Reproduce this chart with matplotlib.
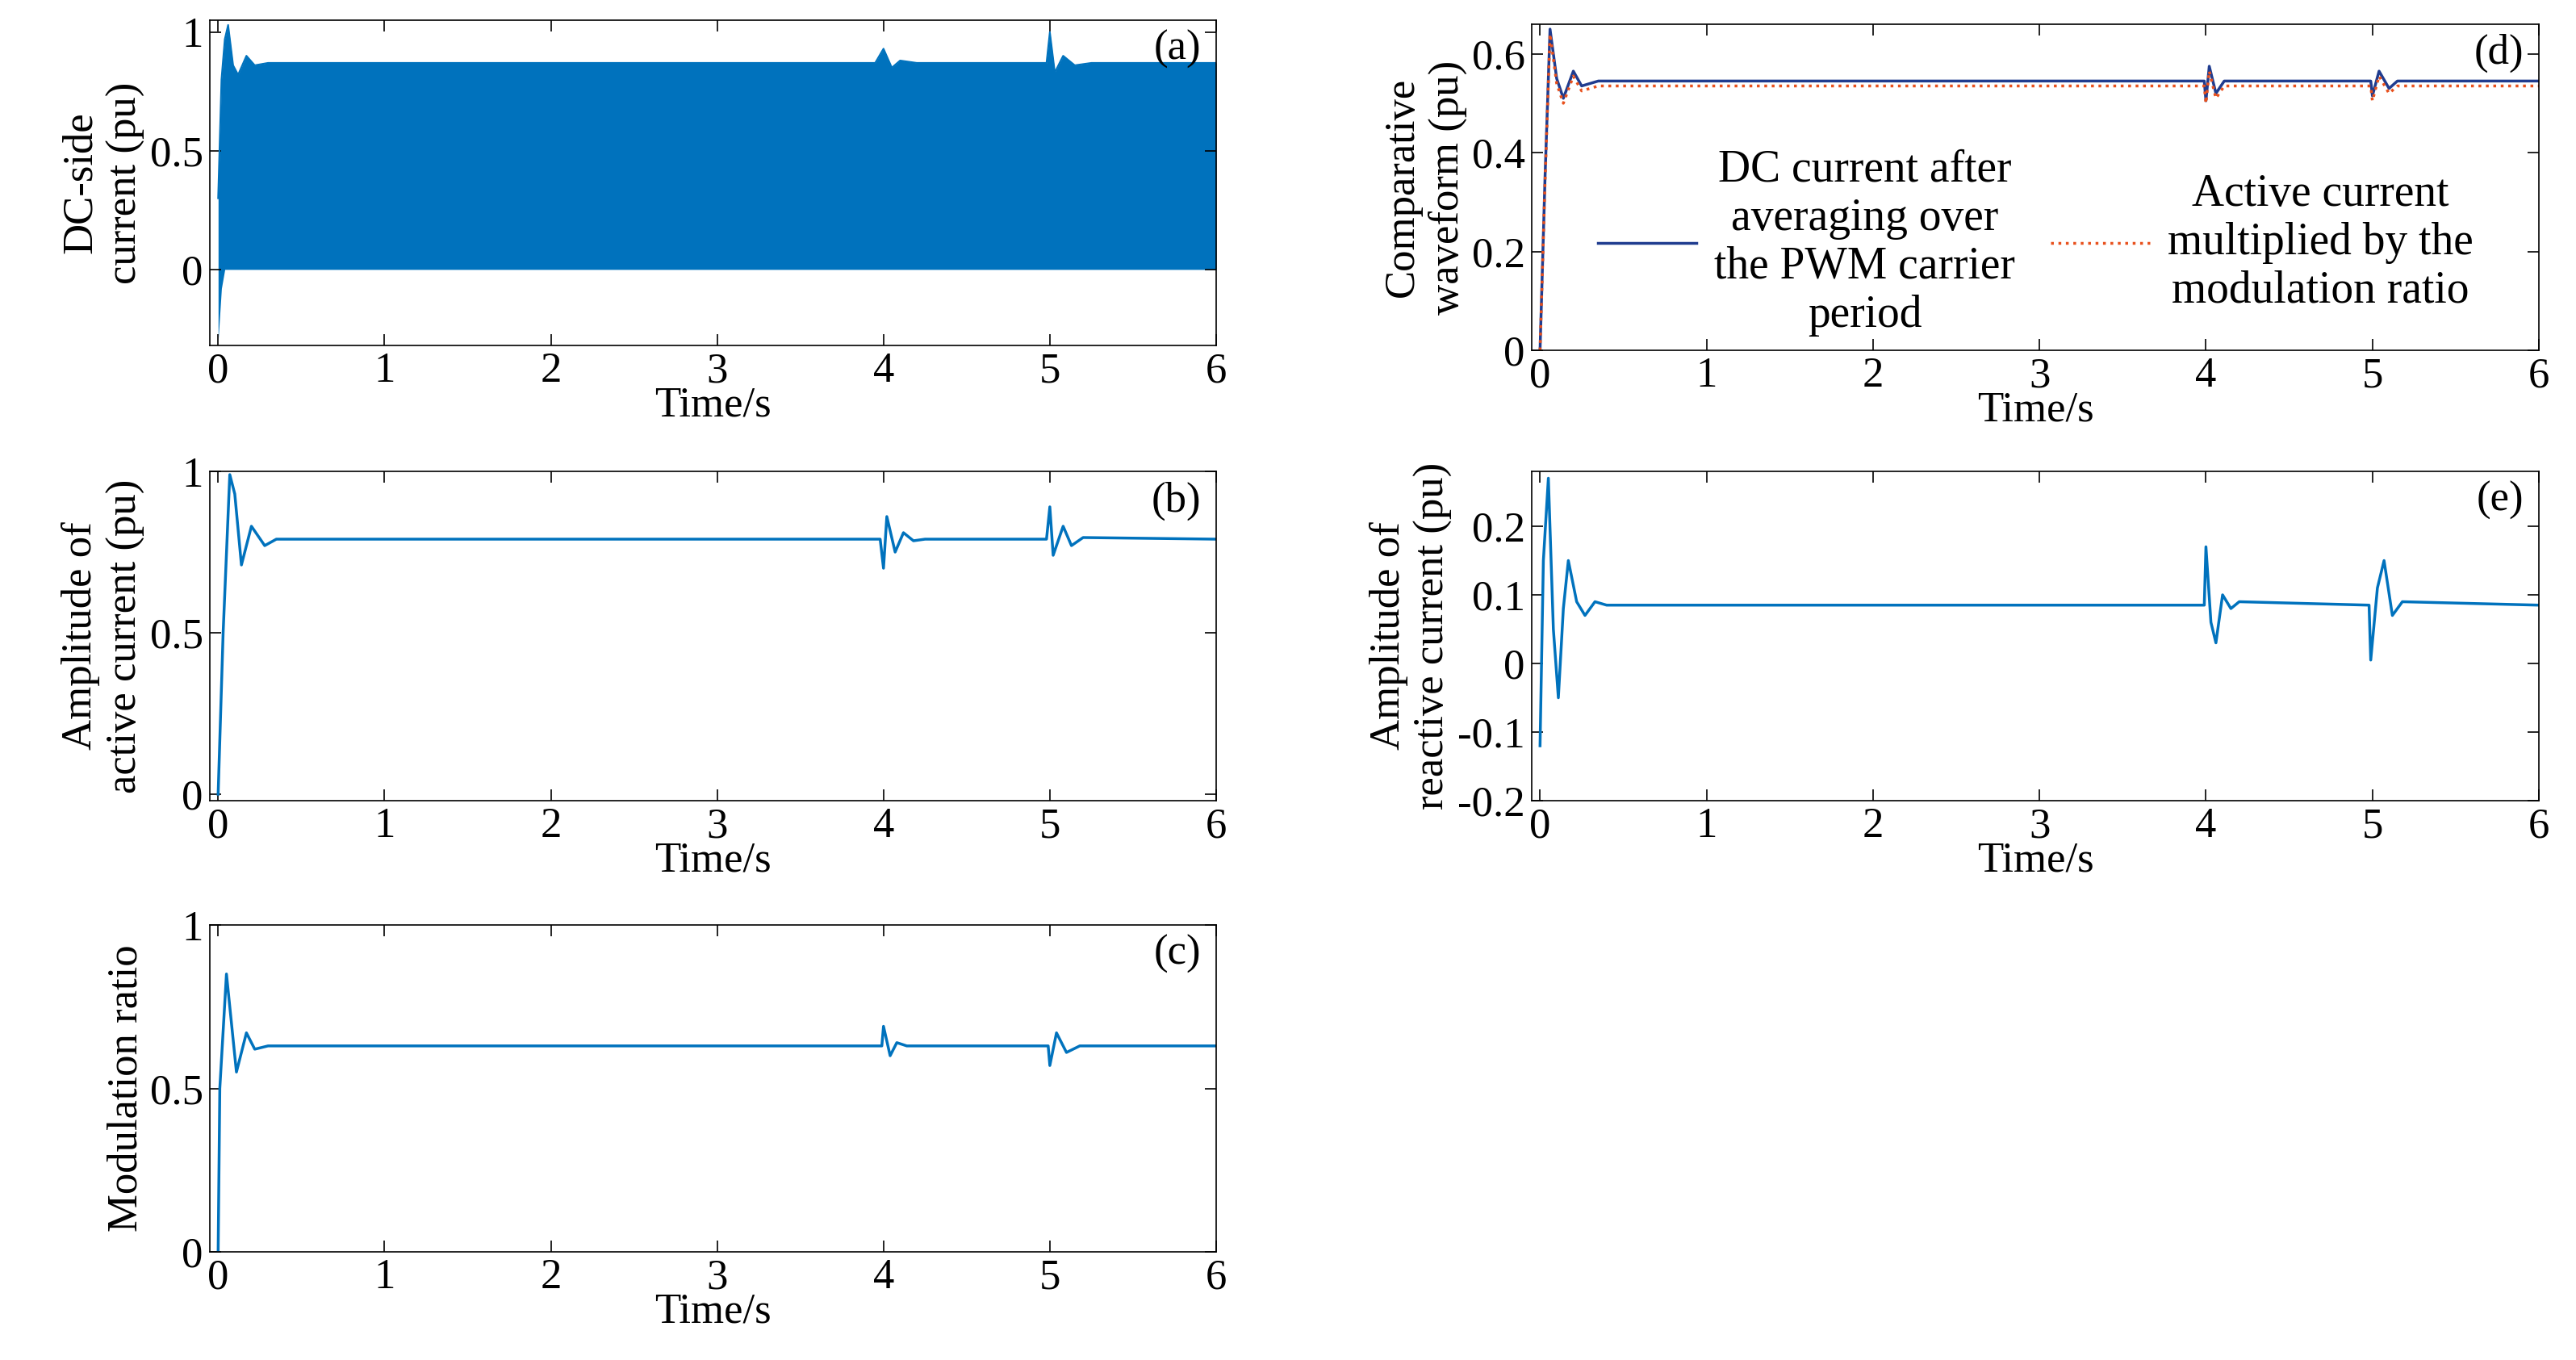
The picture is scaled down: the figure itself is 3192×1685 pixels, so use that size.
import matplotlib
matplotlib.use('Agg')
import matplotlib.pyplot as plt
import numpy as np

plt.rcParams['font.family'] = 'Liberation Serif'
plt.rcParams['font.size'] = 38

line_blue = '#0072BD'

# (a) DC-side current: envelope of the switching waveform
a_t = [0, 0.02, 0.04, 0.06, 0.09, 0.12, 0.17, 0.22, 0.3, 3.95, 4.0, 4.05, 4.1, 4.2, 4.98, 5.0, 5.03, 5.08, 5.15, 5.25, 6.0]
a_upper = [0.3, 0.8, 0.97, 1.03, 0.86, 0.82, 0.9, 0.86, 0.87, 0.87, 0.93, 0.85, 0.88, 0.87, 0.87, 1.0, 0.83, 0.9, 0.86, 0.87, 0.87]
a_lower = [-0.3, -0.08, 0.0, 0.0, 0.0, 0.0, 0.0, 0.0, 0.0, 0.0, 0.0, 0.0, 0.0, 0.0, 0.0, 0.0, 0.0, 0.0, 0.0, 0.0, 0.0]

# (b) active current amplitude
b_t = [0, 0.03, 0.07, 0.1, 0.14, 0.2, 0.28, 0.35, 3.98, 4.0, 4.02, 4.07, 4.12, 4.18, 4.25, 4.98, 5.0, 5.02, 5.08, 5.13, 5.2, 6.0]
b_v = [0.0, 0.5, 0.99, 0.93, 0.71, 0.83, 0.77, 0.79, 0.79, 0.70, 0.86, 0.75, 0.81, 0.785, 0.79, 0.79, 0.89, 0.74, 0.83, 0.77, 0.795, 0.79]

# (c) modulation ratio
c_t = [0, 0.01, 0.05, 0.08, 0.11, 0.17, 0.22, 0.3, 3.99, 4.0, 4.04, 4.08, 4.14, 4.99, 5.0, 5.04, 5.1, 5.18, 6.0]
c_v = [0.0, 0.5, 0.85, 0.7, 0.55, 0.67, 0.62, 0.63, 0.63, 0.69, 0.6, 0.64, 0.63, 0.63, 0.57, 0.67, 0.61, 0.63, 0.63]

# (d) comparative waveform
d_t = [0, 0.03, 0.06, 0.1, 0.14, 0.2, 0.25, 0.35, 3.99, 4.0, 4.02, 4.06, 4.11, 4.99, 5.0, 5.04, 5.1, 5.15, 6.0]
d_dc = [0.0, 0.35, 0.65, 0.55, 0.51, 0.565, 0.535, 0.545, 0.545, 0.505, 0.575, 0.52, 0.545, 0.545, 0.515, 0.565, 0.53, 0.545, 0.545]
d_act = [0.0, 0.34, 0.64, 0.54, 0.50, 0.555, 0.525, 0.535, 0.535, 0.50, 0.565, 0.51, 0.535, 0.535, 0.505, 0.555, 0.52, 0.535, 0.535]

# (e) reactive current amplitude
e_t = [0, 0.02, 0.05, 0.08, 0.11, 0.14, 0.17, 0.22, 0.27, 0.33, 0.4, 3.99, 4.0, 4.03, 4.06, 4.1, 4.15, 4.2, 4.98, 4.99, 5.03, 5.07, 5.12, 5.18, 6.0]
e_v = [-0.12, 0.15, 0.27, 0.05, -0.05, 0.08, 0.15, 0.09, 0.07, 0.09, 0.085, 0.085, 0.17, 0.06, 0.03, 0.1, 0.08, 0.09, 0.085, 0.005, 0.11, 0.15, 0.07, 0.09, 0.085]

fig = plt.figure(figsize=(31.92, 16.85), dpi=100)
W, H = 3192, 1685
def box(l, t, r, b):
    return fig.add_axes([l / W, 1 - b / H, (r - l) / W, (b - t) / H])

ax_a = box(260, 25, 1507, 428)
ax_b = box(260, 584, 1507, 992)
ax_c = box(260, 1146, 1507, 1551)
ax_d = box(1898, 30, 3146, 434)
ax_e = box(1898, 584, 3146, 992)

ax_a.fill_between(a_t, a_lower, a_upper, color=line_blue, lw=0)
ax_a.plot(a_t, a_upper, color=line_blue, lw=1.5)
ax_a.set_ylim(-0.32, 1.05)
ax_a.set_yticks([0, 0.5, 1], ['0', '0.5', '1'])
ax_a.set_ylabel('DC-side\ncurrent (pu)')

ax_b.plot(b_t, b_v, color=line_blue, lw=2.5)
ax_b.set_ylim(-0.02, 1.0)
ax_b.set_yticks([0, 0.5, 1], ['0', '0.5', '1'])
ax_b.set_ylabel('Amplitude of\nactive current (pu)')

ax_c.plot(c_t, c_v, color=line_blue, lw=2.5)
ax_c.set_ylim(0, 1.0)
ax_c.set_yticks([0, 0.5, 1], ['0', '0.5', '1'])
ax_c.set_ylabel('Modulation ratio')

ax_d.plot(d_t, d_dc, color='#1F3C8F', lw=2.5,
          label='DC current after\naveraging over\nthe PWM carrier\nperiod')
ax_d.plot(d_t, d_act, color='#E8501C', lw=2.5, ls=':',
          label='Active current\nmultiplied by the\nmodulation ratio')
ax_d.set_ylim(0, 0.66)
ax_d.set_yticks([0, 0.2, 0.4, 0.6], ['0', '0.2', '0.4', '0.6'])
ax_d.set_ylabel('Comparative\nwaveform (pu)')
leg = ax_d.legend(loc='center', bbox_to_anchor=(0.5, 0.33), ncol=2, frameon=False,
                  fontsize=40, handlelength=2.2, columnspacing=0.8, handletextpad=0.4)
for txt in leg.get_texts():
    txt.set_multialignment('center')

ax_e.plot(e_t, e_v, color=line_blue, lw=2.5)
ax_e.set_ylim(-0.2, 0.28)
ax_e.set_yticks([-0.2, -0.1, 0, 0.1, 0.2], ['-0.2', '-0.1', '0', '0.1', '0.2'])
ax_e.set_ylabel('Amplitude of\nreactive current (pu)')

for ax, tag in [(ax_a, '(a)'), (ax_b, '(b)'), (ax_c, '(c)'), (ax_d, '(d)'), (ax_e, '(e)')]:
    ax.set_xlim(-0.05, 6)
    ax.set_xticks([0, 1, 2, 3, 4, 5, 6])
    ax.set_xlabel('Time/s', labelpad=-4)
    ax.tick_params(direction='in', top=True, right=True, length=10, width=1.2, pad=6)
    for s in ax.spines.values():
        s.set_linewidth(1.2)
    ax.text(0.985, 0.97, tag, transform=ax.transAxes, ha='right', va='top')

fig.savefig('out.png', dpi=100)
